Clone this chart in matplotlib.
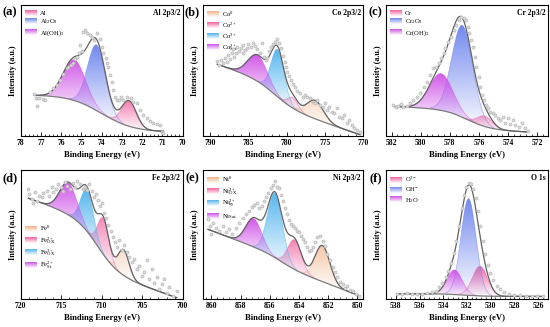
import numpy as np
import matplotlib
matplotlib.use('Agg')
import matplotlib.pyplot as plt
from matplotlib.patches import Patch, Rectangle, Polygon
from matplotlib.legend_handler import HandlerBase
from matplotlib.ticker import MultipleLocator, AutoMinorLocator
from matplotlib.colors import to_rgb

plt.rcParams['font.family'] = 'Liberation Serif'
plt.rcParams['mathtext.fontset'] = 'custom'
plt.rcParams['mathtext.rm'] = 'Liberation Serif'
plt.rcParams['mathtext.it'] = 'Liberation Serif:italic'
plt.rcParams['mathtext.bf'] = 'Liberation Serif:bold'

PINK = '#f25c9c'
BLUE = '#6b83ee'
VIOLET = '#cf4fe8'
SKY = '#4fb3ee'
PEACH = '#f3b083'

# ---- (a) Al 2p3/2 ----
a_energy = [77.33, 77.24, 77.21, 77.09, 76.91, 76.80, 76.55, 76.39, 76.22, 76.06, 75.89, 75.73,
            75.65, 75.51, 75.40, 75.32, 75.20, 75.10, 75.07, 74.99, 74.91, 74.82, 74.71, 74.58,
            74.49, 74.38, 74.25, 74.08, 74.00, 73.92, 73.79, 73.75, 73.67, 73.59, 73.51, 73.42,
            73.34, 73.26, 73.13, 73.06, 72.93, 72.77, 72.57, 72.44, 72.27, 72.11, 71.94, 71.78,
            71.61, 71.45, 71.28, 71.12, 71.04, 70.95]
a_counts = [31.8, 29.3, 22.9, 28.8, 28.0, 27.5, 33.8, 36.4, 38.9, 42.7, 47.3, 51.7,
            52.9, 54.2, 55.5, 58.5, 60.6, 63.1, 69.5, 65.1, 79.6, 80.9, 78.4, 77.1,
            75.3, 73.3, 78.4, 73.8, 68.2, 63.1, 59.3, 55.5, 52.9, 46.6, 41.5, 35.1,
            30.0, 27.5, 27.5, 30.0, 27.5, 30.0, 28.8, 26.2, 24.9, 19.8, 16.0, 13.5,
            11.7, 10.2, 9.2, 8.4, 3.3, 2.0]
a_names = ['Al', 'Al$_2$O$_3$', 'Al(OH)$_3$']
a_colors = [PINK, BLUE, VIOLET]
a_centers = [72.65, 74.25, 75.35]
a_heights = [19.5, 50, 31]
a_fwhm = [0.85, 1.05, 1.3]
a_bg = [3, 0, 28.5, 74.0, 0.8]      # low, slope, step, step centre, step width

# ---- (b) Co 2p3/2 ----
b_energy = [789.08, 788.82, 788.65, 788.39, 788.08, 787.86, 787.64, 787.43, 787.21, 787.08,
            786.90, 786.64, 786.47, 786.21, 786.03, 785.77, 785.68, 785.47, 785.25, 785.03,
            784.73, 784.46, 784.16, 783.85, 783.51, 783.24, 782.98, 782.72, 782.55, 782.29,
            782.02, 781.76, 781.50, 781.24, 780.98, 780.76, 780.54, 780.28, 780.11, 779.93,
            779.67, 779.41, 779.15, 778.93, 778.63, 778.28, 777.93, 777.62, 777.32, 776.97,
            776.62, 776.32, 776.01, 775.66, 775.31, 775.01, 774.70, 774.44, 774.14, 773.83,
            773.48, 773.13, 772.83, 772.53, 772.18, 771.83, 771.52, 771.22, 770.87, 770.43]
b_counts = [57.3, 54.2, 58.0, 56.0, 59.3, 56.7, 61.8, 58.5, 63.1, 66.2,
            60.1, 63.6, 68.2, 65.1, 66.9, 63.1, 69.5, 65.6, 66.9, 70.2,
            68.2, 70.7, 68.7, 66.2, 63.1, 70.7, 60.6, 58.0, 59.3, 65.1,
            68.2, 70.2, 72.0, 73.8, 70.7, 66.9, 61.1, 56.7, 52.9, 49.1,
            45.8, 42.7, 39.7, 37.2, 34.6, 32.6, 30.0, 31.3, 29.5, 28.8,
            26.2, 24.9, 27.5, 23.7, 22.4, 24.9, 19.8, 21.9, 18.6, 17.3,
            21.1, 14.8, 13.5, 16.0, 9.7, 12.2, 8.4, 5.9, 4.6, 3.3]
b_names = ['Co$^0$', 'Co$^{2+}$', 'Co$^{3+}$', 'Co$^{2+}_{\\mathrm{Sat.}}$']
b_colors = [PEACH, PINK, SKY, VIOLET]
b_centers = [776.3, 779.2, 781.2, 783.8]
b_heights = [14, 8, 36, 20]
b_fwhm = [2.6, 1.6, 2.0, 3.0]
b_bg = [1, 2.0, 16.5, 781.5, 1.4]

# ---- (c) Cr 2p3/2 ----
c_energy = [581.87, 581.71, 581.53, 581.35, 581.19, 580.96, 580.73, 580.50, 580.27, 580.04,
            579.81, 579.59, 579.36, 579.13, 578.97, 578.78, 578.60, 578.44, 578.33, 578.10,
            577.91, 577.75, 577.59, 577.41, 577.23, 577.05, 576.91, 576.77, 576.66, 576.54,
            576.43, 576.31, 576.18, 576.04, 575.92, 575.81, 575.67, 575.54, 575.40, 575.24,
            575.08, 574.89, 574.71, 574.55, 574.39, 574.21, 574.02, 573.86, 573.70, 573.52,
            573.29, 573.06, 572.83, 572.65]
c_counts = [23.7, 21.9, 22.9, 24.4, 22.4, 22.9, 24.9, 27.5, 30.0, 32.6,
            37.7, 41.5, 46.6, 51.7, 52.9, 55.5, 59.3, 63.1, 66.9, 72.0,
            75.8, 80.9, 84.7, 88.5, 91.1, 89.8, 88.5, 83.5, 78.4, 73.3,
            68.2, 60.6, 52.9, 45.3, 37.7, 31.3, 27.5, 23.7, 21.1, 18.6,
            17.3, 16.0, 13.5, 12.2, 14.8, 10.2, 13.5, 9.2, 12.2, 8.4,
            7.1, 9.7, 5.9, 4.1]
c_names = ['Cr', 'Cr$_2$O$_3$', 'Cr(OH)$_3$']
c_colors = [PINK, BLUE, VIOLET]
c_centers = [575.6, 577.15, 578.6]
c_heights = [8, 70, 28]
c_fwhm = [1.2, 1.7, 1.9]
c_bg = [3, 0.5, 15, 576.8, 0.8]

# ---- (d) Fe 2p3/2 ----
d_energy = [719.05, 718.93, 718.64, 718.44, 718.23, 718.02, 717.70, 717.41, 717.20, 716.79,
            716.46, 716.17, 715.97, 715.64, 715.35, 715.06, 714.73, 714.53, 714.24, 713.91,
            713.58, 713.29, 713.00, 712.67, 712.35, 712.06, 711.77, 711.52, 711.23, 710.95,
            710.70, 710.41, 710.21, 710.00, 709.71, 709.47, 709.18, 708.89, 708.64, 708.35,
            708.07, 707.82, 707.53, 707.24, 706.91, 706.58, 706.30, 706.01, 705.68, 705.35,
            705.06, 704.77, 704.44, 704.12, 703.83, 703.54, 703.21, 702.88, 702.59, 702.30,
            701.98, 701.65, 701.15, 700.74]
d_counts = [85.4, 81.5, 77.5, 74.9, 82.8, 76.2, 80.2, 78.8, 82.0, 84.1,
            80.2, 86.8, 82.8, 85.4, 89.4, 87.3, 84.1, 90.7, 88.1, 85.4,
            89.9, 86.8, 91.5, 89.4, 85.4, 87.3, 84.7, 89.4, 83.6, 78.8,
            81.5, 76.7, 72.2, 74.9, 66.9, 63.0, 57.7, 52.4, 48.4, 44.4,
            40.5, 45.8, 37.8, 41.8, 36.5, 32.5, 28.6, 31.2, 23.3, 25.9,
            18.0, 20.6, 29.9, 15.3, 23.3, 12.7, 16.7, 7.4, 11.4, 15.3,
            4.8, 9.5, 2.1, 6.1]
d_names = ['Fe$^0$', 'Fe$^{2+}_{\\mathrm{OX}}$', 'Fe$^{3+}_{\\mathrm{OX}}$', 'Fe$^{2+}_{\\mathrm{Sf}}$']
d_colors = [PEACH, PINK, SKY, VIOLET]
d_centers = [707.3, 709.8, 711.8, 714.1]
d_heights = [20, 28, 32, 25]
d_fwhm = [1.6, 1.6, 1.9, 2.5]
d_bg = [1, 2.2, 37, 710.5, 1.3]

# ---- (e) Ni 2p3/2 ----
e_energy = [860.23, 860.11, 860.00, 859.89, 859.66, 859.47, 859.24, 859.02, 858.79, 858.56,
            858.33, 858.10, 857.87, 857.64, 857.41, 857.25, 857.09, 856.91, 856.73, 856.57,
            856.41, 856.27, 856.11, 855.95, 855.81, 855.65, 855.54, 855.40, 855.26, 855.13,
            854.99, 854.85, 854.71, 854.58, 854.44, 854.30, 854.16, 854.03, 853.89, 853.75,
            853.62, 853.48, 853.34, 853.20, 853.07, 852.91, 852.75, 852.56, 852.38, 852.22,
            852.06, 851.88, 851.69, 851.53, 851.37, 851.19, 851.01, 850.85, 850.69, 850.50,
            850.32, 850.09, 849.86]
e_counts = [61.8, 56.7, 50.4, 59.3, 55.5, 52.9, 56.7, 51.7, 54.2, 50.4,
            55.5, 59.3, 63.1, 65.6, 68.2, 71.2, 73.3, 74.6, 70.7, 72.0,
            75.8, 78.9, 82.2, 86.0, 88.5, 91.6, 87.3, 86.0, 80.9, 75.8,
            70.7, 65.6, 61.1, 58.0, 56.7, 55.5, 52.9, 51.7, 49.1, 46.6,
            44.0, 40.2, 37.2, 38.2, 40.2, 44.0, 47.8, 49.1, 45.3, 41.5,
            35.1, 30.0, 24.9, 21.1, 17.3, 13.5, 11.7, 8.4, 10.2, 7.1,
            5.9, 4.1, 2.5]
e_names = ['Ni$^0$', 'Ni$^{2+}_{\\mathrm{OX}}$', 'Ni$^{2+}_{\\mathrm{hy}}$', 'Ni$_{\\mathrm{Sat.}}$']
e_colors = [PEACH, PINK, SKY, VIOLET]
e_centers = [852.4, 854.3, 855.65, 857.1]
e_heights = [28, 23, 50, 22]
e_fwhm = [1.2, 1.1, 1.2, 1.3]
e_bg = [2.5, 4.3, 7, 855.2, 0.6]

# ---- (f) O 1s ----
f_energy = [537.92, 537.50, 537.07, 536.65, 536.23, 535.81, 535.39, 534.97, 534.64, 534.36,
            534.08, 533.80, 533.57, 533.35, 533.12, 532.90, 532.67, 532.45, 532.25, 532.06,
            531.86, 531.66, 531.47, 531.27, 531.08, 530.88, 530.68, 530.49, 530.26, 530.04,
            529.79, 529.51, 529.23, 528.86, 528.47, 528.02, 527.54, 527.07, 526.56, 526.06,
            525.58]
f_counts = [4.1, 3.8, 4.3, 3.8, 4.1, 3.8, 4.3, 5.1, 6.6, 9.2,
            12.7, 17.3, 21.9, 28.0, 35.6, 45.3, 56.7, 70.7, 80.9, 87.3,
            89.8, 89.1, 85.5, 78.4, 68.2, 56.7, 45.3, 35.1, 26.2, 19.8,
            14.8, 10.4, 7.6, 5.3, 4.1, 3.3, 2.8, 2.5, 2.3, 2.0,
            2.0]
f_names = ['O$^{2-}$', 'OH$^{-}$', 'H$_2$O']
f_colors = [PINK, BLUE, VIOLET]
f_centers = [530.9, 531.87, 533.05]
f_heights = [23, 75, 19]
f_fwhm = [1.5, 1.5, 1.5]
f_bg = [2, 0, 2, 532.0, 0.8]

panels = [
    ('(a)', 'Al 2p3/2', a_energy, a_counts, a_names, a_colors, a_centers, a_heights, a_fwhm, a_bg, (78, 70), 1),
    ('(b)', 'Co 2p3/2', b_energy, b_counts, b_names, b_colors, b_centers, b_heights, b_fwhm, b_bg, (791, 770), 5),
    ('(c)', 'Cr 2p3/2', c_energy, c_counts, c_names, c_colors, c_centers, c_heights, c_fwhm, c_bg, (582.4, 571.3), 2),
    ('(d)', 'Fe 2p3/2', d_energy, d_counts, d_names, d_colors, d_centers, d_heights, d_fwhm, d_bg, (720, 700), 5),
    ('(e)', 'Ni 2p3/2', e_energy, e_counts, e_names, e_colors, e_centers, e_heights, e_fwhm, e_bg, (860.6, 849.6), 2),
    ('(f)', 'O 1s', f_energy, f_counts, f_names, f_colors, f_centers, f_heights, f_fwhm, f_bg, (538.85, 525.2), 2),
]

# axes boxes in figure fraction
lefts = [0.0376, 0.3685, 0.7013]
widths = [0.2946, 0.292, 0.2945]
rows = [(0.584, 0.401), (0.0856, 0.394)]


def gauss(x, c, h, fwhm):
    s = fwhm / 2.3548
    return h * np.exp(-0.5 * ((x - c) / s) ** 2)


def shirley_like(x, lo, slope, step, c, w):
    return lo + slope * (x - x.min()) + step / (1 + np.exp(-(x - c) / w))


# legend patch: colour fading to white
class GradientHandle(HandlerBase):
    def create_artists(self, legend, orig_handle, xdescent, ydescent, width, height, fontsize, trans):
        color = to_rgb(orig_handle.get_facecolor())
        n = 6
        arts = []
        for i in range(n):
            a = 0.9 - 0.8 * i / (n - 1)
            y = -ydescent + height * (n - 1 - i) / n
            arts.append(Rectangle((-xdescent, y), width, height / n, facecolor=color,
                                  alpha=a, edgecolor='none', transform=trans))
        return arts


def gradient_fill(ax, x, bottom, top, color, z):
    verts = np.column_stack([np.r_[x, x[::-1]], np.r_[top, bottom[::-1]]])
    poly = Polygon(verts, closed=True, facecolor='none', edgecolor='none')
    ax.add_patch(poly)
    diff = top - bottom
    mask = diff > 0.01 * diff.max()
    y0 = bottom[mask].min()
    y1 = top.max()
    grad = np.zeros((256, 1, 4))
    grad[..., :3] = to_rgb(color)
    grad[:, 0, 3] = np.linspace(0.03, 0.95, 256)
    im = ax.imshow(grad, extent=[x.min(), x.max(), y0, y1], origin='lower', aspect='auto',
                   interpolation='bilinear', zorder=z)
    im.set_clip_path(poly)
    ax.plot(x[mask], top[mask], color=color, lw=0.5, alpha=0.6, zorder=z + 0.1)


fig = plt.figure(figsize=(5.5, 3.27), dpi=100)

for i, p in enumerate(panels):
    letter, title, energy, counts, names, colors, centers, heights, fwhm, bg, xlim, step = p
    row, col = divmod(i, 3)
    ax = fig.add_axes([lefts[col], rows[row][0], widths[col], rows[row][1]])

    x = np.linspace(min(energy), max(energy), 500)
    base = shirley_like(x, *bg)
    total = base.copy()
    for k in range(len(names)):
        g = gauss(x, centers[k], heights[k], fwhm[k])
        gradient_fill(ax, x, base, base + g, colors[k], 2 + k)
        total += g

    ax.plot(x, base, color='#7a7a7a', lw=0.9, zorder=8)
    ax.plot(x, total, color='#606060', lw=0.9, zorder=9)
    ax.scatter(energy, counts, s=5, facecolor='#dadada', edgecolor='#b0b0b0', linewidths=0.4, zorder=10)

    ax.set_xlim(*xlim)
    ax.set_ylim(0, 100)
    ax.set_yticks([])
    ax.xaxis.set_major_locator(MultipleLocator(step))
    ax.xaxis.set_minor_locator(AutoMinorLocator(5))
    ax.tick_params(axis='x', which='major', direction='in', length=3, width=0.6, labelsize=5.5, pad=2)
    ax.tick_params(axis='x', which='minor', direction='in', length=1.5, width=0.5)
    for lab in ax.get_xticklabels():
        lab.set_fontweight('bold')
    for sp in ax.spines.values():
        sp.set_linewidth(0.8)

    ax.set_xlabel('Binding Energy (eV)', fontsize=6.2, fontweight='bold', labelpad=3)
    ax.set_ylabel('Intensity (a.u.)', fontsize=5.8, fontweight='bold', labelpad=3)
    ax.text(0.985, 0.94, title, transform=ax.transAxes, ha='right', va='center',
            fontsize=5.5, fontweight='bold')
    ax.text(-0.02, 0.94, letter, transform=ax.transAxes, ha='right', va='center',
            fontsize=9, fontweight='bold')

    handles = [Patch(facecolor=c) for c in colors]
    anchor = (0.0, 0.62) if letter == '(d)' else (0.0, 1.0)
    ax.legend(handles, names, loc='upper left', bbox_to_anchor=anchor, frameon=False,
              fontsize=4.8, handlelength=1.7, handleheight=1.0, handletextpad=0.5,
              labelspacing=0.25, borderaxespad=0.3, handler_map={Patch: GradientHandle()})

fig.savefig('out.png', dpi=100)
